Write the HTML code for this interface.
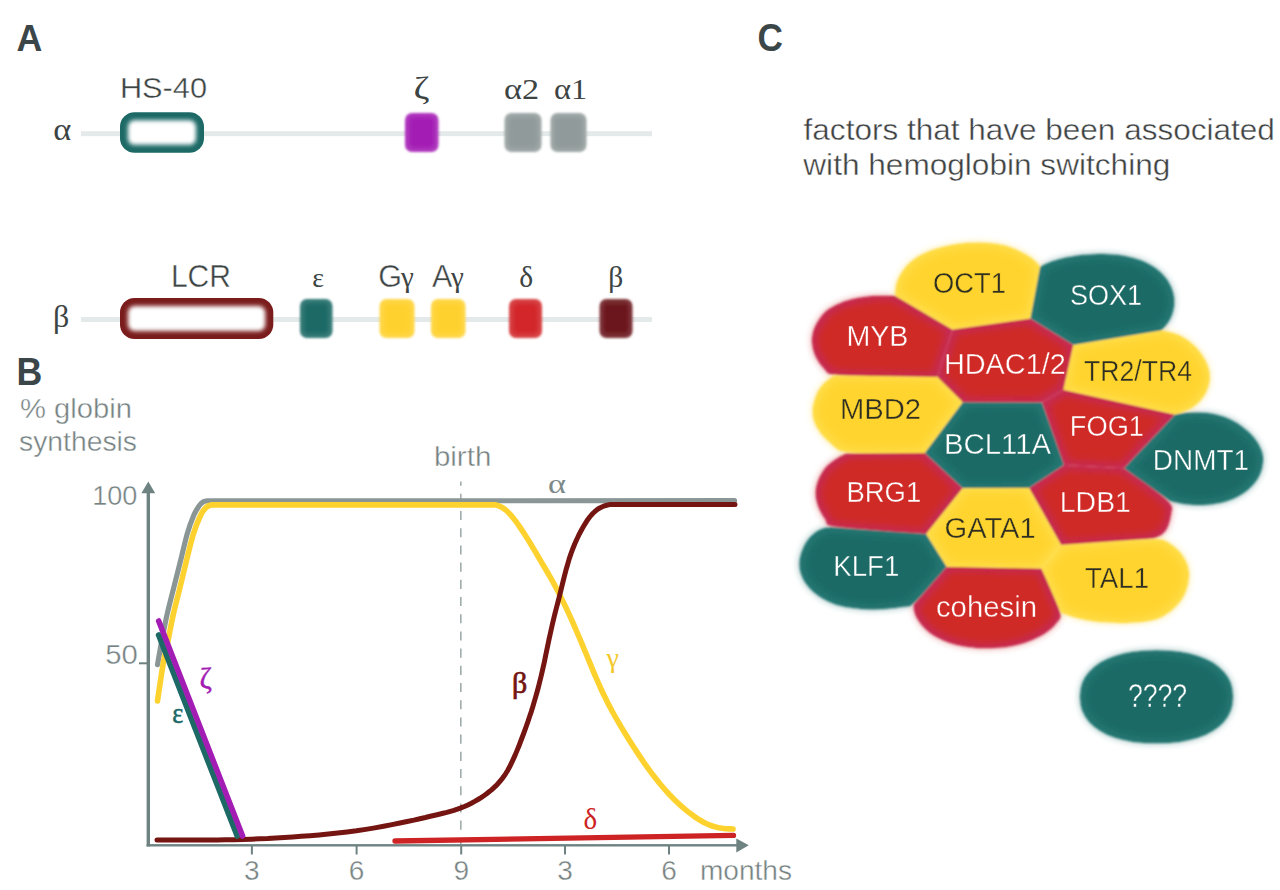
<!DOCTYPE html>
<html><head><meta charset="utf-8"><title>Hemoglobin switching</title>
<style>html,body{margin:0;padding:0;background:#fff;}body{width:1280px;height:890px;overflow:hidden;font-family:"Liberation Sans",sans-serif;}svg{display:block;}</style>
</head><body>
<svg width="1280" height="890" viewBox="0 0 1280 890">
<defs>
<filter id="b1" x="-20%" y="-20%" width="140%" height="140%"><feGaussianBlur stdDeviation="1.1"/></filter>
<filter id="bb" x="-10%" y="-10%" width="120%" height="120%"><feGaussianBlur stdDeviation="1.3"/></filter>
<filter id="b07" x="-20%" y="-20%" width="140%" height="140%"><feGaussianBlur stdDeviation="0.7"/></filter>
<filter id="b2" x="-20%" y="-20%" width="140%" height="140%"><feGaussianBlur stdDeviation="2.2"/></filter>
<filter id="b3" x="-30%" y="-30%" width="160%" height="160%"><feGaussianBlur stdDeviation="3.5"/></filter>
<filter id="b5" x="-30%" y="-30%" width="160%" height="160%"><feGaussianBlur stdDeviation="4.5"/></filter>
<filter id="inner" x="-10%" y="-10%" width="120%" height="120%"><feMorphology operator="erode" radius="3.5"/><feGaussianBlur stdDeviation="4.2"/></filter>
<clipPath id="c_OCT1"><path d="M895.5,296.0 L952.4,329.5 L1030.3,318.5 L1040.0,267.0 L1039.3,266.0 L1038.6,265.0 L1037.8,263.9 L1036.8,262.8 L1035.7,261.6 L1034.4,260.4 L1032.9,259.1 L1031.2,257.8 L1029.3,256.5 L1027.1,255.2 L1024.7,253.8 L1022.1,252.4 L1019.4,251.1 L1016.6,249.8 L1013.8,248.6 L1011.0,247.5 L1008.2,246.5 L1005.2,245.6 L1002.1,244.9 L998.7,244.2 L995.1,243.7 L991.1,243.2 L987.0,242.9 L982.8,242.7 L978.5,242.6 L974.2,242.7 L970.0,242.8 L965.7,243.1 L961.5,243.5 L957.3,244.1 L953.0,244.7 L948.8,245.5 L944.6,246.4 L940.6,247.4 L936.7,248.5 L932.9,249.7 L929.4,251.0 L926.0,252.4 L922.8,253.9 L919.7,255.5 L916.9,257.3 L914.1,259.2 L911.6,261.1 L909.2,263.2 L907.0,265.5 L905.0,267.8 L903.1,270.2 L901.5,272.7 L900.0,275.2 L898.8,277.7 L897.7,280.1 L896.9,282.4 L896.3,284.6 L895.8,286.7 L895.5,288.7 L895.3,290.4 L895.3,292.1 L895.3,293.5 L895.4,294.8 L895.5,296.0 Z"/></clipPath>
<clipPath id="c_MYB"><path d="M937.3,377.0 L952.4,329.5 L895.5,296.0 L892.7,295.9 L889.8,295.8 L886.7,295.7 L883.4,295.7 L879.9,295.7 L876.4,295.8 L872.8,296.0 L869.3,296.3 L865.7,296.7 L862.1,297.2 L858.5,297.8 L855.1,298.5 L851.7,299.3 L848.5,300.2 L845.5,301.1 L842.7,302.1 L840.1,303.2 L837.6,304.2 L835.4,305.3 L833.3,306.4 L831.4,307.4 L829.5,308.5 L827.8,309.7 L826.1,311.1 L824.4,312.7 L822.7,314.6 L821.0,316.7 L819.3,319.0 L817.8,321.5 L816.3,324.0 L815.1,326.5 L814.0,329.1 L813.1,331.8 L812.5,334.5 L812.1,337.3 L812.0,340.2 L812.1,343.2 L812.5,346.3 L813.1,349.3 L813.9,352.2 L815.0,355.0 L816.2,357.7 L817.6,360.1 L819.0,362.4 L820.5,364.5 L822.0,366.3 L823.4,368.0 L824.7,369.4 L825.7,370.6 L826.5,371.7 L827.1,372.7 L828.3,373.5 L831.2,374.2 L837.0,374.8 L846.7,375.4 L860.5,375.8 L877.8,376.2 L897.1,376.5 L917.1,376.8 L937.3,377.0 Z"/></clipPath>
<clipPath id="c_MBD2"><path d="M924.7,453.0 L962.7,402.3 L937.3,377.0 L834.5,375.5 L833.2,376.3 L831.9,377.2 L830.5,378.1 L828.9,379.2 L827.4,380.4 L825.7,381.8 L824.1,383.3 L822.5,384.9 L821.0,386.7 L819.6,388.7 L818.3,390.8 L817.1,393.1 L816.1,395.5 L815.2,398.0 L814.4,400.4 L813.8,402.9 L813.2,405.3 L812.8,407.8 L812.6,410.2 L812.6,412.6 L812.8,415.0 L813.2,417.4 L813.8,419.9 L814.6,422.3 L815.6,424.7 L816.8,427.2 L818.3,429.6 L819.9,432.1 L821.7,434.4 L823.7,436.7 L825.8,438.9 L828.1,441.1 L830.3,443.1 L832.4,445.0 L834.2,446.7 L836.0,448.3 L838.1,449.8 L841.3,451.0 L846.6,452.0 L854.7,452.7 L865.7,453.1 L879.2,453.3 L894.0,453.3 L909.4,453.2 L924.7,453.0 Z"/></clipPath>
<clipPath id="c_BRG1"><path d="M926.2,534.0 L962.7,488.2 L924.7,453.0 L846.0,453.4 L844.1,454.4 L842.1,455.5 L840.0,456.6 L837.8,457.9 L835.6,459.2 L833.5,460.7 L831.4,462.2 L829.3,463.9 L827.4,465.6 L825.6,467.6 L823.9,469.7 L822.4,472.0 L821.0,474.4 L819.7,476.8 L818.6,479.3 L817.7,481.7 L816.9,484.2 L816.3,486.6 L815.9,489.1 L815.6,491.5 L815.6,493.9 L815.8,496.4 L816.1,498.8 L816.6,501.2 L817.3,503.6 L818.0,505.9 L818.9,508.3 L819.9,510.5 L821.0,512.6 L822.1,514.6 L823.3,516.4 L824.4,518.1 L825.3,519.6 L826.0,521.0 L826.3,522.2 L826.4,523.3 L827.0,524.4 L829.2,525.4 L834.0,526.4 L842.6,527.6 L855.2,528.8 L871.0,530.1 L888.9,531.4 L907.5,532.7 L926.2,534.0 Z"/></clipPath>
<clipPath id="c_KLF1"><path d="M946.7,566.7 L926.2,534.0 L831.0,527.2 L829.5,527.4 L828.0,527.6 L826.4,527.8 L824.8,528.1 L823.3,528.5 L821.8,528.9 L820.4,529.5 L819.0,530.2 L817.5,531.0 L816.0,532.0 L814.4,533.3 L812.7,534.7 L811.0,536.3 L809.4,538.1 L807.8,540.0 L806.4,542.1 L805.1,544.3 L803.9,546.6 L802.9,549.0 L801.9,551.3 L801.1,553.7 L800.5,556.0 L799.9,558.4 L799.6,560.7 L799.4,563.0 L799.4,565.3 L799.6,567.7 L800.0,570.0 L800.6,572.4 L801.3,574.7 L802.3,577.1 L803.4,579.4 L804.7,581.7 L806.2,584.0 L808.0,586.3 L809.9,588.5 L812.0,590.6 L814.4,592.7 L816.8,594.6 L819.4,596.4 L822.2,598.2 L825.0,599.8 L827.9,601.2 L830.8,602.5 L833.6,603.7 L836.5,604.7 L839.4,605.5 L842.5,606.3 L845.7,606.9 L849.2,607.6 L853.0,608.1 L857.1,608.6 L861.4,609.0 L865.9,609.3 L870.4,609.4 L874.9,609.4 L879.3,609.3 L883.6,609.1 L887.8,608.7 L891.6,608.3 L895.2,607.9 L898.4,607.5 L901.2,607.1 L903.7,606.8 L905.7,606.7 L907.4,606.6 L909.0,606.4 L910.9,605.5 L913.4,603.6 L917.0,600.2 L921.8,595.1 L927.5,588.8 L933.8,581.6 L940.3,574.2 L946.7,566.7 Z"/></clipPath>
<clipPath id="c_cohesin"><path d="M1041.5,568.4 L946.7,566.7 L913.5,604.8 L913.6,606.2 L913.7,607.6 L913.8,609.2 L914.1,610.8 L914.5,612.5 L915.1,614.3 L915.9,616.2 L916.8,618.1 L918.0,620.0 L919.4,622.1 L921.0,624.2 L922.8,626.3 L924.8,628.4 L927.0,630.5 L929.3,632.5 L931.8,634.3 L934.5,636.0 L937.3,637.6 L940.3,639.1 L943.3,640.4 L946.5,641.7 L949.9,642.9 L953.3,644.0 L956.9,645.0 L960.6,645.8 L964.4,646.5 L968.3,647.1 L972.4,647.6 L976.5,647.9 L980.8,648.2 L985.0,648.3 L989.4,648.2 L993.7,648.1 L998.1,647.8 L1002.3,647.4 L1006.6,646.9 L1010.7,646.2 L1014.8,645.5 L1018.7,644.5 L1022.6,643.5 L1026.3,642.3 L1029.8,641.0 L1033.3,639.6 L1036.5,638.1 L1039.6,636.6 L1042.5,635.0 L1045.2,633.3 L1047.7,631.6 L1050.0,629.8 L1052.0,628.0 L1053.9,626.2 L1055.5,624.3 L1057.0,622.6 L1058.2,621.0 L1059.3,619.7 L1060.1,618.4 L1060.7,617.1 L1060.7,615.2 L1060.0,612.2 L1058.5,607.6 L1056.0,601.4 L1052.8,593.9 L1049.2,585.6 L1045.4,577.0 L1041.5,568.4 Z"/></clipPath>
<clipPath id="c_TAL1"><path d="M1061.0,545.0 L1041.5,568.4 L1061.0,612.5 L1062.7,613.2 L1064.5,614.0 L1066.6,614.8 L1069.0,615.6 L1071.7,616.5 L1074.9,617.4 L1078.3,618.3 L1082.1,619.2 L1086.2,620.0 L1090.5,620.8 L1095.1,621.4 L1099.9,621.9 L1104.9,622.3 L1109.9,622.6 L1115.0,622.8 L1120.1,622.9 L1125.1,622.9 L1130.1,622.8 L1134.9,622.6 L1139.4,622.2 L1143.7,621.8 L1147.7,621.1 L1151.5,620.4 L1155.0,619.5 L1158.2,618.4 L1161.1,617.2 L1163.8,615.8 L1166.3,614.2 L1168.7,612.6 L1170.9,610.9 L1173.1,609.0 L1175.1,607.1 L1177.1,605.1 L1179.0,603.0 L1180.7,600.7 L1182.3,598.2 L1183.8,595.7 L1185.1,593.0 L1186.2,590.2 L1187.1,587.3 L1187.9,584.4 L1188.5,581.4 L1188.8,578.5 L1189.0,575.6 L1189.0,572.9 L1188.7,570.3 L1188.2,567.9 L1187.6,565.5 L1186.7,563.2 L1185.6,560.8 L1184.3,558.4 L1182.8,556.0 L1181.1,553.6 L1179.2,551.3 L1177.1,549.2 L1174.9,547.2 L1172.6,545.5 L1170.3,543.9 L1168.2,542.5 L1166.3,541.4 L1164.4,540.4 L1162.1,539.7 L1158.4,539.3 L1152.2,539.2 L1142.8,539.5 L1129.9,540.2 L1114.2,541.2 L1096.9,542.4 L1078.9,543.7 L1061.0,545.0 Z"/></clipPath>
<clipPath id="c_LDB1"><path d="M1124.0,468.2 L1064.0,465.0 L1029.0,488.0 L1061.0,545.0 L1153.0,538.5 L1154.7,537.9 L1156.4,537.3 L1158.2,536.6 L1159.9,535.7 L1161.5,534.7 L1163.0,533.6 L1164.3,532.3 L1165.4,530.9 L1166.4,529.4 L1167.3,527.7 L1168.1,525.9 L1168.8,524.0 L1169.4,522.1 L1169.9,520.1 L1170.4,518.3 L1170.7,516.5 L1171.0,514.8 L1171.3,513.2 L1171.6,511.7 L1171.9,510.2 L1172.1,508.6 L1171.9,506.9 L1170.9,504.7 L1168.5,501.7 L1164.3,497.8 L1158.2,492.8 L1150.6,487.0 L1142.0,480.8 L1133.0,474.5 L1124.0,468.2 Z"/></clipPath>
<clipPath id="c_DNMT1"><path d="M1175.0,414.5 L1124.0,468.2 L1169.8,500.8 L1172.3,501.5 L1175.0,502.2 L1177.9,502.8 L1181.0,503.5 L1184.4,504.0 L1188.0,504.5 L1191.6,504.8 L1195.4,505.0 L1199.3,505.0 L1203.2,504.9 L1207.0,504.7 L1210.9,504.4 L1214.7,503.8 L1218.4,503.2 L1222.1,502.4 L1225.8,501.4 L1229.3,500.2 L1232.7,498.9 L1236.0,497.4 L1239.2,495.7 L1242.2,493.9 L1245.1,491.9 L1247.7,489.9 L1250.2,487.7 L1252.4,485.5 L1254.4,483.3 L1256.1,481.0 L1257.7,478.7 L1259.0,476.3 L1260.1,473.9 L1261.1,471.3 L1261.9,468.7 L1262.4,466.1 L1262.8,463.5 L1263.0,461.0 L1263.1,458.5 L1262.9,456.1 L1262.5,453.8 L1261.8,451.4 L1260.9,448.9 L1259.7,446.4 L1258.3,443.8 L1256.6,441.2 L1254.7,438.6 L1252.5,436.1 L1250.2,433.6 L1247.7,431.2 L1245.0,428.9 L1242.2,426.7 L1239.2,424.6 L1236.0,422.6 L1232.7,420.8 L1229.3,419.1 L1225.8,417.6 L1222.1,416.3 L1218.4,415.2 L1214.6,414.3 L1210.9,413.6 L1207.1,413.1 L1203.3,412.8 L1199.7,412.6 L1196.1,412.6 L1192.7,412.6 L1189.5,412.8 L1186.5,413.0 L1183.7,413.3 L1181.2,413.6 L1178.9,413.9 L1176.9,414.2 L1175.0,414.5 Z"/></clipPath>
<clipPath id="c_FOG1"><path d="M1175.0,414.5 L1063.5,389.7 L1042.0,402.5 L1064.0,465.0 L1124.0,468.2 Z"/></clipPath>
<clipPath id="c_TR2TR4"><path d="M1175.0,414.5 L1063.5,389.7 L1073.4,345.0 L1161.0,330.5 L1163.3,330.8 L1165.7,331.2 L1168.2,331.7 L1170.9,332.4 L1173.8,333.3 L1176.7,334.3 L1179.7,335.6 L1182.6,337.1 L1185.5,338.8 L1188.4,340.8 L1191.2,342.9 L1193.9,345.3 L1196.4,347.8 L1198.8,350.5 L1200.9,353.3 L1202.9,356.2 L1204.6,359.1 L1206.1,362.1 L1207.4,365.0 L1208.4,367.8 L1209.1,370.6 L1209.6,373.2 L1209.8,375.8 L1209.8,378.4 L1209.6,381.0 L1209.1,383.5 L1208.5,386.1 L1207.6,388.6 L1206.6,391.1 L1205.4,393.5 L1204.0,395.9 L1202.4,398.1 L1200.7,400.2 L1198.9,402.2 L1197.0,404.0 L1195.0,405.6 L1193.0,407.1 L1190.8,408.4 L1188.6,409.6 L1186.3,410.6 L1183.9,411.6 L1181.6,412.4 L1179.3,413.2 L1177.1,413.9 L1175.0,414.5 Z"/></clipPath>
<clipPath id="c_SOX1"><path d="M1161.0,330.5 L1073.4,345.0 L1030.3,318.5 L1040.0,267.0 L1040.9,266.5 L1041.9,265.9 L1043.1,265.2 L1044.5,264.5 L1046.2,263.8 L1048.2,262.9 L1050.5,262.0 L1053.0,261.1 L1055.9,260.2 L1059.0,259.3 L1062.3,258.4 L1065.9,257.6 L1069.7,256.9 L1073.7,256.2 L1077.7,255.6 L1081.9,255.1 L1086.1,254.7 L1090.4,254.4 L1094.7,254.2 L1099.0,254.1 L1103.2,254.1 L1107.5,254.2 L1111.8,254.4 L1116.1,254.7 L1120.4,255.3 L1124.7,256.0 L1129.0,256.9 L1133.2,258.0 L1137.3,259.2 L1141.3,260.6 L1145.1,262.2 L1148.7,264.0 L1152.1,265.9 L1155.3,268.0 L1158.2,270.2 L1160.8,272.5 L1163.2,275.0 L1165.4,277.5 L1167.3,280.1 L1168.9,282.7 L1170.3,285.2 L1171.5,287.8 L1172.4,290.4 L1173.2,292.9 L1173.7,295.5 L1174.1,298.1 L1174.3,300.6 L1174.3,303.2 L1174.1,305.8 L1173.7,308.4 L1173.1,311.0 L1172.4,313.7 L1171.4,316.3 L1170.3,318.8 L1168.9,321.2 L1167.4,323.4 L1165.8,325.4 L1164.2,327.3 L1162.6,328.9 L1161.0,330.5 Z"/></clipPath>
<clipPath id="c_HDAC"><path d="M952.4,329.5 L1030.3,318.5 L1073.4,345.0 L1063.5,389.7 L1042.0,402.5 L962.7,402.3 L937.3,377.0 Z"/></clipPath>
<clipPath id="c_BCL11A"><path d="M962.7,402.3 L1042.0,402.5 L1064.0,465.0 L1029.0,488.0 L962.7,488.2 L924.7,453.0 Z"/></clipPath>
<clipPath id="c_GATA1"><path d="M962.7,488.2 L1029.0,488.0 L1061.0,545.0 L1041.5,568.4 L946.7,566.7 L926.2,534.0 Z"/></clipPath>
<clipPath id="c_Q"><path d="M1233.0,696.8 L1232.4,704.4 L1230.7,710.8 L1227.8,716.6 L1223.8,721.9 L1218.8,726.7 L1212.7,731.0 L1205.7,734.7 L1197.8,737.7 L1189.1,740.1 L1179.5,741.9 L1169.0,742.9 L1156.5,743.3 L1144.0,742.9 L1133.5,741.9 L1123.9,740.1 L1115.2,737.7 L1107.3,734.7 L1100.3,731.0 L1094.2,726.7 L1089.2,721.9 L1085.2,716.6 L1082.3,710.8 L1080.6,704.4 L1080.0,696.8 L1080.6,689.2 L1082.3,682.8 L1085.2,677.0 L1089.2,671.7 L1094.2,666.9 L1100.3,662.6 L1107.3,658.9 L1115.2,655.9 L1123.9,653.5 L1133.5,651.7 L1144.0,650.7 L1156.5,650.3 L1169.0,650.7 L1179.5,651.7 L1189.1,653.5 L1197.8,655.9 L1205.7,658.9 L1212.7,662.6 L1218.8,666.9 L1223.8,671.7 L1227.8,677.0 L1230.7,682.8 L1232.4,689.2 Z"/></clipPath>
</defs>
<rect width="1280" height="890" fill="#ffffff"/>
<text x="16.6" y="50.6" font-family='"Liberation Sans", sans-serif' font-size="37.5" font-weight="bold" fill="#3b4648" text-anchor="start" textLength="25.8" lengthAdjust="spacingAndGlyphs" >A</text>
<text x="757.4" y="51.2" font-family='"Liberation Sans", sans-serif' font-size="38.0" font-weight="bold" fill="#3b4648" text-anchor="start" textLength="25.4" lengthAdjust="spacingAndGlyphs" >C</text>
<text x="16.4" y="385.4" font-family='"Liberation Sans", sans-serif' font-size="38.0" font-weight="bold" fill="#3b4648" text-anchor="start" textLength="25.8" lengthAdjust="spacingAndGlyphs" >B</text>
<g filter="url(#b07)">
<rect x="81" y="131.2" width="571" height="5" fill="#e4e9e9"/>
<rect x="81" y="317" width="571" height="5" fill="#e4e9e9"/>
</g>
<g><rect x="120.0" y="112.3" width="84.0" height="40.5" rx="14.5" fill="#1c6966" filter="url(#b07)"/><rect x="128.0" y="120.3" width="68.0" height="24.5" rx="6.5" fill="#ffffff" filter="url(#b2)"/></g>
<g filter="url(#b1)"><rect x="405.0" y="113.0" width="33.5" height="39.0" rx="7.0" fill="#b241c0"/><rect x="408.5" y="116.5" width="26.5" height="32.0" rx="4.0" fill="#a31db4" filter="url(#b2)"/></g>
<g filter="url(#b1)"><rect x="504.5" y="113.0" width="37.0" height="39.0" rx="7.0" fill="#a2aaaa"/><rect x="508.0" y="116.5" width="30.0" height="32.0" rx="4.0" fill="#909a9a" filter="url(#b2)"/></g>
<g filter="url(#b1)"><rect x="550.5" y="113.0" width="36.0" height="39.0" rx="7.0" fill="#a2aaaa"/><rect x="554.0" y="116.5" width="29.0" height="32.0" rx="4.0" fill="#909a9a" filter="url(#b2)"/></g>
<g><rect x="120.0" y="298.0" width="153.3" height="41.0" rx="14.5" fill="#7a1a1c" filter="url(#b07)"/><rect x="128.0" y="306.0" width="137.3" height="25.0" rx="6.5" fill="#ffffff" filter="url(#b2)"/></g>
<g filter="url(#b1)"><rect x="300.0" y="299.0" width="32.5" height="39.0" rx="7.0" fill="#40817e"/><rect x="303.5" y="302.5" width="25.5" height="32.0" rx="4.0" fill="#1c6966" filter="url(#b2)"/></g>
<g filter="url(#b1)"><rect x="379.5" y="299.0" width="35.0" height="39.0" rx="7.0" fill="#ffd84f"/><rect x="383.0" y="302.5" width="28.0" height="32.0" rx="4.0" fill="#ffd12e" filter="url(#b2)"/></g>
<g filter="url(#b1)"><rect x="431.0" y="299.0" width="34.5" height="39.0" rx="7.0" fill="#ffd84f"/><rect x="434.5" y="302.5" width="27.5" height="32.0" rx="4.0" fill="#ffd12e" filter="url(#b2)"/></g>
<g filter="url(#b1)"><rect x="509.0" y="299.0" width="33.0" height="39.0" rx="7.0" fill="#d94a4c"/><rect x="512.5" y="302.5" width="26.0" height="32.0" rx="4.0" fill="#d2272a" filter="url(#b2)"/></g>
<g filter="url(#b1)"><rect x="599.5" y="299.0" width="33.0" height="39.0" rx="7.0" fill="#823d40"/><rect x="603.0" y="302.5" width="26.0" height="32.0" rx="4.0" fill="#6a181c" filter="url(#b2)"/></g>
<text x="119.9" y="98.3" font-family='"Liberation Sans", sans-serif' font-size="30.0" font-weight="normal" fill="#3d4444" text-anchor="start" textLength="87.1" lengthAdjust="spacingAndGlyphs"  stroke="#fff" stroke-width="0.40">HS-40</text>
<text x="53.2" y="139.6" font-family='"Liberation Serif", serif' font-size="32.0" font-weight="normal" fill="#3d4444" text-anchor="start" textLength="18.0" lengthAdjust="spacingAndGlyphs" >&#945;</text>
<text x="413.4" y="98.7" font-family='"Liberation Serif", serif' font-size="32.0" font-weight="normal" fill="#3d4444" text-anchor="start" textLength="16.0" lengthAdjust="spacingAndGlyphs" >&#950;</text>
<text x="504.0" y="98.5" font-family='"Liberation Serif", serif' font-size="29.5" font-weight="normal" fill="#3d4444" text-anchor="start" textLength="35.0" lengthAdjust="spacingAndGlyphs" >&#945;2</text>
<text x="554.0" y="98.5" font-family='"Liberation Serif", serif' font-size="29.5" font-weight="normal" fill="#3d4444" text-anchor="start" textLength="33.2" lengthAdjust="spacingAndGlyphs" >&#945;1</text>
<text x="53.0" y="327.0" font-family='"Liberation Serif", serif' font-size="32.0" font-weight="normal" fill="#3d4444" text-anchor="start" >&#946;</text>
<text x="170.9" y="287.3" font-family='"Liberation Sans", sans-serif' font-size="30.5" font-weight="normal" fill="#3d4444" text-anchor="start" textLength="60.1" lengthAdjust="spacingAndGlyphs"  stroke="#fff" stroke-width="0.40">LCR</text>
<text x="312.2" y="287.3" font-family='"Liberation Serif", serif' font-size="28.0" font-weight="normal" fill="#3d4444" text-anchor="start" >&#949;</text>
<text x="378.2" y="287.0" font-family='"Liberation Sans", sans-serif' font-size="30.5" font-weight="normal" fill="#3d4444" text-anchor="start"  stroke="#fff" stroke-width="0.40">G</text>
<text x="401.0" y="287.0" font-family='"Liberation Serif", serif' font-size="29.0" font-weight="normal" fill="#3d4444" text-anchor="start" >&#947;</text>
<text x="432.0" y="287.0" font-family='"Liberation Sans", sans-serif' font-size="30.5" font-weight="normal" fill="#3d4444" text-anchor="start"  stroke="#fff" stroke-width="0.40">A</text>
<text x="451.0" y="287.0" font-family='"Liberation Serif", serif' font-size="29.0" font-weight="normal" fill="#3d4444" text-anchor="start" >&#947;</text>
<text x="519.2" y="287.3" font-family='"Liberation Serif", serif' font-size="29.5" font-weight="normal" fill="#3d4444" text-anchor="start" >&#948;</text>
<text x="608.2" y="287.3" font-family='"Liberation Serif", serif' font-size="29.5" font-weight="normal" fill="#3d4444" text-anchor="start" >&#946;</text>
<text x="20.0" y="418.0" font-family='"Liberation Sans", sans-serif' font-size="27.5" font-weight="normal" fill="#768282" text-anchor="start" textLength="112.0" lengthAdjust="spacingAndGlyphs"  stroke="#fff" stroke-width="0.40">% globin</text>
<text x="19.0" y="451.0" font-family='"Liberation Sans", sans-serif' font-size="27.5" font-weight="normal" fill="#768282" text-anchor="start" textLength="118.0" lengthAdjust="spacingAndGlyphs"  stroke="#fff" stroke-width="0.40">synthesis</text>
<text x="92.2" y="504.7" font-family='"Liberation Sans", sans-serif' font-size="28.5" font-weight="normal" fill="#768282" text-anchor="start" textLength="45.2" lengthAdjust="spacingAndGlyphs"  stroke="#fff" stroke-width="0.40">100</text>
<text x="105.3" y="663.8" font-family='"Liberation Sans", sans-serif' font-size="28.5" font-weight="normal" fill="#768282" text-anchor="start" textLength="32.6" lengthAdjust="spacingAndGlyphs"  stroke="#fff" stroke-width="0.40">50</text>
<text x="433.9" y="466.0" font-family='"Liberation Sans", sans-serif' font-size="27.5" font-weight="normal" fill="#768282" text-anchor="start" textLength="57.4" lengthAdjust="spacingAndGlyphs"  stroke="#fff" stroke-width="0.40">birth</text>
<text x="699.9" y="879.6" font-family='"Liberation Sans", sans-serif' font-size="27.5" font-weight="normal" fill="#768282" text-anchor="start" textLength="92.1" lengthAdjust="spacingAndGlyphs"  stroke="#fff" stroke-width="0.40">months</text>
<text x="251.9" y="880.3" font-family='"Liberation Sans", sans-serif' font-size="28.5" font-weight="normal" fill="#768282" text-anchor="middle" textLength="15.6" lengthAdjust="spacingAndGlyphs"  stroke="#fff" stroke-width="0.40">3</text>
<rect x="250.9" y="845" width="2" height="9.5" fill="#6f8282"/>
<text x="356.6" y="880.3" font-family='"Liberation Sans", sans-serif' font-size="28.5" font-weight="normal" fill="#768282" text-anchor="middle" textLength="15.6" lengthAdjust="spacingAndGlyphs"  stroke="#fff" stroke-width="0.40">6</text>
<rect x="355.6" y="845" width="2" height="9.5" fill="#6f8282"/>
<text x="461.2" y="880.3" font-family='"Liberation Sans", sans-serif' font-size="28.5" font-weight="normal" fill="#768282" text-anchor="middle" textLength="15.6" lengthAdjust="spacingAndGlyphs"  stroke="#fff" stroke-width="0.40">9</text>
<rect x="460.2" y="845" width="2" height="9.5" fill="#6f8282"/>
<text x="565.0" y="880.3" font-family='"Liberation Sans", sans-serif' font-size="28.5" font-weight="normal" fill="#768282" text-anchor="middle" textLength="15.6" lengthAdjust="spacingAndGlyphs"  stroke="#fff" stroke-width="0.40">3</text>
<rect x="564.0" y="845" width="2" height="9.5" fill="#6f8282"/>
<text x="669.0" y="880.3" font-family='"Liberation Sans", sans-serif' font-size="28.5" font-weight="normal" fill="#768282" text-anchor="middle" textLength="15.6" lengthAdjust="spacingAndGlyphs"  stroke="#fff" stroke-width="0.40">6</text>
<rect x="668.0" y="845" width="2" height="9.5" fill="#6f8282"/>
<rect x="146.6" y="490" width="3.4" height="356.5" fill="#6f8282"/>
<rect x="146.6" y="844.1" width="591" height="2.4" fill="#6f8282"/>
<path d="M148.3,481.5 L155.2,493.3 L141.4,493.3 Z" fill="#6f8282"/>
<path d="M748.8,845.3 L736.3,838.4 L736.3,852.4 Z" fill="#6f8282"/>
<rect x="139" y="662.3" width="8" height="2" fill="#6f8282"/>
<line x1="460.85" y1="481.6" x2="460.85" y2="844" stroke="#8b9999" stroke-width="1.3" stroke-dasharray="9.1 8.1" stroke-dashoffset="5"/>
<path d="M157.5,664.7 C158.2,660.9 160.0,650.1 161.6,641.8 C163.2,633.5 165.0,623.8 167.0,614.8 C169.0,605.8 171.4,596.9 173.7,587.9 C175.9,578.9 178.2,569.9 180.5,560.9 C182.8,551.9 185.0,541.5 187.2,533.9 C189.4,526.2 191.9,519.7 193.9,515.0 C195.9,510.3 197.8,507.8 199.3,505.6 C200.8,503.4 201.7,502.8 203.0,502.0 C204.3,501.2 206.3,501.0 207.0,500.8 L734.5,500.7" fill="none" stroke="#8a9696" stroke-width="5.2" stroke-linecap="round" stroke-linejoin="round"/>
<path d="M157.5,701.0 C158.4,695.0 161.3,674.6 163.0,664.7 C164.7,654.8 166.1,650.1 167.8,641.8 C169.5,633.5 171.2,623.8 173.2,614.8 C175.2,605.8 177.7,596.9 179.9,587.9 C182.1,578.9 184.2,569.9 186.4,560.9 C188.7,551.9 191.0,541.5 193.4,533.9 C195.8,526.2 198.6,519.4 200.7,515.0 C202.8,510.6 204.3,509.2 206.0,507.5 C207.7,505.8 210.2,505.3 211.0,504.9 L495.7,504.9 L497.5,505.4 L499.3,506.1 L501.3,507.0 L503.4,508.2 L505.7,510.0 L508.2,512.3 L510.9,515.2 L513.7,518.6 L516.7,522.5 L519.7,526.9 L522.9,531.6 L526.0,536.5 L529.2,541.5 L532.3,546.7 L535.4,551.9 L538.4,557.0 L541.4,562.1 L544.3,567.0 L547.1,571.7 L549.8,576.4 L552.5,581.2 L555.2,586.1 L558.0,591.4 L560.9,597.2 L564.0,603.4 L567.2,610.1 L570.4,617.2 L573.7,624.5 L576.9,632.0 L580.1,639.4 L583.2,646.8 L586.2,654.0 L589.1,661.1 L591.9,667.9 L594.7,674.6 L597.5,681.0 L600.2,687.2 L603.0,693.2 L605.9,699.1 L608.8,704.9 L611.9,710.7 L615.1,716.5 L618.5,722.4 L622.0,728.4 L625.6,734.3 L629.3,740.3 L633.0,746.1 L636.8,751.9 L640.5,757.4 L644.2,762.9 L647.9,768.1 L651.6,773.2 L655.4,778.0 L659.1,782.7 L662.9,787.2 L666.6,791.5 L670.4,795.6 L674.2,799.4 L678.0,803.1 L681.9,806.6 L685.7,809.8 L689.4,812.8 L693.1,815.6 L696.7,818.1 L700.2,820.3 L703.5,822.2 L706.6,823.7 L709.5,825.0 L712.3,826.0 L714.9,826.8 L717.5,827.5 L720.0,827.9 L722.4,828.3 L724.7,828.6 L726.9,828.7 L729.0,828.9 L731.0,828.9 L733.0,829.0" fill="none" stroke="#fdd22f" stroke-width="5.6" stroke-linecap="round" stroke-linejoin="round"/>
<path d="M395,841 L733.5,835.4" fill="none" stroke="#cd2324" stroke-width="5.3" stroke-linecap="round"/>
<path d="M157.0,840.0 L163.5,840.0 L170.2,840.1 L177.3,840.1 L184.7,840.1 L192.5,840.1 L200.5,840.1 L208.8,840.0 L217.2,840.0 L225.8,839.8 L234.3,839.7 L242.8,839.5 L251.2,839.2 L259.4,838.8 L267.7,838.5 L275.9,838.0 L284.2,837.5 L292.6,837.0 L301.2,836.3 L310.0,835.7 L319.1,834.9 L328.3,834.1 L337.7,833.1 L347.0,832.0 L356.4,830.8 L365.7,829.4 L374.8,827.9 L383.6,826.3 L392.0,824.6 L399.9,823.0 L407.2,821.5 L413.9,820.1 L419.9,818.7 L425.4,817.5 L430.3,816.3 L434.9,815.3 L439.1,814.3 L443.1,813.3 L446.8,812.4 L450.4,811.4 L453.9,810.4 L457.4,809.2 L460.9,807.9 L464.4,806.5 L467.9,804.9 L471.4,803.2 L474.7,801.4 L478.0,799.5 L481.1,797.6 L483.9,795.7 L486.6,793.8 L489.1,791.8 L491.5,789.9 L493.7,787.9 L495.8,785.9 L497.9,783.7 L499.8,781.5 L501.8,779.2 L503.7,776.6 L505.6,773.8 L507.5,770.7 L509.4,767.3 L511.2,763.6 L513.1,759.6 L515.0,755.4 L516.9,750.9 L518.8,746.3 L520.6,741.5 L522.5,736.5 L524.4,731.5 L526.2,726.5 L528.0,721.4 L529.6,716.5 L531.3,711.6 L532.8,706.7 L534.2,701.9 L535.6,697.1 L537.0,692.3 L538.3,687.5 L539.5,682.6 L540.8,677.5 L542.0,672.4 L543.2,667.1 L544.4,661.7 L545.5,656.2 L546.7,650.5 L547.9,644.7 L549.1,638.9 L550.4,633.3 L551.6,627.8 L552.8,622.5 L554.0,617.5 L555.2,612.7 L556.4,608.0 L557.6,603.3 L558.9,598.4 L560.2,593.2 L561.5,587.8 L562.9,582.1 L564.4,576.2 L565.9,570.3 L567.6,564.5 L569.2,558.9 L571.0,553.6 L572.8,548.7 L574.7,544.0 L576.6,539.7 L578.5,535.7 L580.4,532.0 L582.3,528.5 L584.2,525.3 L586.0,522.4 L587.7,519.7 L589.5,517.3 L591.2,515.2 L593.0,513.3 L594.7,511.7 L596.3,510.3 L598.0,509.0 L599.7,508.0 L601.3,507.2 L602.9,506.5 L604.4,505.9 L605.9,505.5 L607.3,505.1 L608.7,504.8 L610.0,504.6 L735,504.6" fill="none" stroke="#741512" stroke-width="5" stroke-linecap="round" stroke-linejoin="round"/>
<path d="M158.6,635 L237.2,836" fill="none" stroke="#1c6966" stroke-width="5.6" stroke-linecap="round"/>
<path d="M158.7,621 L242.6,836" fill="none" stroke="#a31db4" stroke-width="5.6" stroke-linecap="round"/>
<text x="548.0" y="493.0" font-family='"Liberation Serif", serif' font-size="28.0" font-weight="normal" fill="#7d8989" text-anchor="start" textLength="18.0" lengthAdjust="spacingAndGlyphs" >&#945;</text>
<text x="199.5" y="688.0" font-family='"Liberation Serif", serif' font-size="30.0" font-weight="normal" fill="#a31db4" text-anchor="start" stroke="#a31db4" stroke-width="0.4">&#950;</text>
<text x="172.2" y="723.0" font-family='"Liberation Serif", serif' font-size="28.5" font-weight="normal" fill="#1c6966" text-anchor="start" textLength="11.0" lengthAdjust="spacingAndGlyphs" stroke="#1c6966" stroke-width="0.5">&#949;</text>
<text x="512.0" y="693.0" font-family='"Liberation Serif", serif' font-size="30.0" font-weight="normal" fill="#741512" text-anchor="start" stroke="#741512" stroke-width="0.7">&#946;</text>
<text x="606.5" y="667.0" font-family='"Liberation Serif", serif' font-size="28.0" font-weight="normal" fill="#f4c82a" text-anchor="start" >&#947;</text>
<text x="583.5" y="829.0" font-family='"Liberation Serif", serif' font-size="29.0" font-weight="normal" fill="#cd2324" text-anchor="start" >&#948;</text>
<text x="803.6" y="140.0" font-family='"Liberation Sans", sans-serif' font-size="30.0" font-weight="normal" fill="#3e4242" text-anchor="start" textLength="471.2" lengthAdjust="spacingAndGlyphs"  stroke="#fff" stroke-width="0.40">factors that have been associated</text>
<text x="803.3" y="175.0" font-family='"Liberation Sans", sans-serif' font-size="30.0" font-weight="normal" fill="#3e4242" text-anchor="start" textLength="367.0" lengthAdjust="spacingAndGlyphs"  stroke="#fff" stroke-width="0.40">with hemoglobin switching</text>
<g filter="url(#b3)" opacity="0.5">
<path d="M895.5,296.0 L952.4,329.5 L1030.3,318.5 L1040.0,267.0 L1039.3,266.0 L1038.6,265.0 L1037.8,263.9 L1036.8,262.8 L1035.7,261.6 L1034.4,260.4 L1032.9,259.1 L1031.2,257.8 L1029.3,256.5 L1027.1,255.2 L1024.7,253.8 L1022.1,252.4 L1019.4,251.1 L1016.6,249.8 L1013.8,248.6 L1011.0,247.5 L1008.2,246.5 L1005.2,245.6 L1002.1,244.9 L998.7,244.2 L995.1,243.7 L991.1,243.2 L987.0,242.9 L982.8,242.7 L978.5,242.6 L974.2,242.7 L970.0,242.8 L965.7,243.1 L961.5,243.5 L957.3,244.1 L953.0,244.7 L948.8,245.5 L944.6,246.4 L940.6,247.4 L936.7,248.5 L932.9,249.7 L929.4,251.0 L926.0,252.4 L922.8,253.9 L919.7,255.5 L916.9,257.3 L914.1,259.2 L911.6,261.1 L909.2,263.2 L907.0,265.5 L905.0,267.8 L903.1,270.2 L901.5,272.7 L900.0,275.2 L898.8,277.7 L897.7,280.1 L896.9,282.4 L896.3,284.6 L895.8,286.7 L895.5,288.7 L895.3,290.4 L895.3,292.1 L895.3,293.5 L895.4,294.8 L895.5,296.0 Z" fill="#ffd42e"/>
<path d="M937.3,377.0 L952.4,329.5 L895.5,296.0 L892.7,295.9 L889.8,295.8 L886.7,295.7 L883.4,295.7 L879.9,295.7 L876.4,295.8 L872.8,296.0 L869.3,296.3 L865.7,296.7 L862.1,297.2 L858.5,297.8 L855.1,298.5 L851.7,299.3 L848.5,300.2 L845.5,301.1 L842.7,302.1 L840.1,303.2 L837.6,304.2 L835.4,305.3 L833.3,306.4 L831.4,307.4 L829.5,308.5 L827.8,309.7 L826.1,311.1 L824.4,312.7 L822.7,314.6 L821.0,316.7 L819.3,319.0 L817.8,321.5 L816.3,324.0 L815.1,326.5 L814.0,329.1 L813.1,331.8 L812.5,334.5 L812.1,337.3 L812.0,340.2 L812.1,343.2 L812.5,346.3 L813.1,349.3 L813.9,352.2 L815.0,355.0 L816.2,357.7 L817.6,360.1 L819.0,362.4 L820.5,364.5 L822.0,366.3 L823.4,368.0 L824.7,369.4 L825.7,370.6 L826.5,371.7 L827.1,372.7 L828.3,373.5 L831.2,374.2 L837.0,374.8 L846.7,375.4 L860.5,375.8 L877.8,376.2 L897.1,376.5 L917.1,376.8 L937.3,377.0 Z" fill="#cf2925"/>
<path d="M924.7,453.0 L962.7,402.3 L937.3,377.0 L834.5,375.5 L833.2,376.3 L831.9,377.2 L830.5,378.1 L828.9,379.2 L827.4,380.4 L825.7,381.8 L824.1,383.3 L822.5,384.9 L821.0,386.7 L819.6,388.7 L818.3,390.8 L817.1,393.1 L816.1,395.5 L815.2,398.0 L814.4,400.4 L813.8,402.9 L813.2,405.3 L812.8,407.8 L812.6,410.2 L812.6,412.6 L812.8,415.0 L813.2,417.4 L813.8,419.9 L814.6,422.3 L815.6,424.7 L816.8,427.2 L818.3,429.6 L819.9,432.1 L821.7,434.4 L823.7,436.7 L825.8,438.9 L828.1,441.1 L830.3,443.1 L832.4,445.0 L834.2,446.7 L836.0,448.3 L838.1,449.8 L841.3,451.0 L846.6,452.0 L854.7,452.7 L865.7,453.1 L879.2,453.3 L894.0,453.3 L909.4,453.2 L924.7,453.0 Z" fill="#ffd42e"/>
<path d="M926.2,534.0 L962.7,488.2 L924.7,453.0 L846.0,453.4 L844.1,454.4 L842.1,455.5 L840.0,456.6 L837.8,457.9 L835.6,459.2 L833.5,460.7 L831.4,462.2 L829.3,463.9 L827.4,465.6 L825.6,467.6 L823.9,469.7 L822.4,472.0 L821.0,474.4 L819.7,476.8 L818.6,479.3 L817.7,481.7 L816.9,484.2 L816.3,486.6 L815.9,489.1 L815.6,491.5 L815.6,493.9 L815.8,496.4 L816.1,498.8 L816.6,501.2 L817.3,503.6 L818.0,505.9 L818.9,508.3 L819.9,510.5 L821.0,512.6 L822.1,514.6 L823.3,516.4 L824.4,518.1 L825.3,519.6 L826.0,521.0 L826.3,522.2 L826.4,523.3 L827.0,524.4 L829.2,525.4 L834.0,526.4 L842.6,527.6 L855.2,528.8 L871.0,530.1 L888.9,531.4 L907.5,532.7 L926.2,534.0 Z" fill="#cf2925"/>
<path d="M946.7,566.7 L926.2,534.0 L831.0,527.2 L829.5,527.4 L828.0,527.6 L826.4,527.8 L824.8,528.1 L823.3,528.5 L821.8,528.9 L820.4,529.5 L819.0,530.2 L817.5,531.0 L816.0,532.0 L814.4,533.3 L812.7,534.7 L811.0,536.3 L809.4,538.1 L807.8,540.0 L806.4,542.1 L805.1,544.3 L803.9,546.6 L802.9,549.0 L801.9,551.3 L801.1,553.7 L800.5,556.0 L799.9,558.4 L799.6,560.7 L799.4,563.0 L799.4,565.3 L799.6,567.7 L800.0,570.0 L800.6,572.4 L801.3,574.7 L802.3,577.1 L803.4,579.4 L804.7,581.7 L806.2,584.0 L808.0,586.3 L809.9,588.5 L812.0,590.6 L814.4,592.7 L816.8,594.6 L819.4,596.4 L822.2,598.2 L825.0,599.8 L827.9,601.2 L830.8,602.5 L833.6,603.7 L836.5,604.7 L839.4,605.5 L842.5,606.3 L845.7,606.9 L849.2,607.6 L853.0,608.1 L857.1,608.6 L861.4,609.0 L865.9,609.3 L870.4,609.4 L874.9,609.4 L879.3,609.3 L883.6,609.1 L887.8,608.7 L891.6,608.3 L895.2,607.9 L898.4,607.5 L901.2,607.1 L903.7,606.8 L905.7,606.7 L907.4,606.6 L909.0,606.4 L910.9,605.5 L913.4,603.6 L917.0,600.2 L921.8,595.1 L927.5,588.8 L933.8,581.6 L940.3,574.2 L946.7,566.7 Z" fill="#1e6a66"/>
<path d="M1041.5,568.4 L946.7,566.7 L913.5,604.8 L913.6,606.2 L913.7,607.6 L913.8,609.2 L914.1,610.8 L914.5,612.5 L915.1,614.3 L915.9,616.2 L916.8,618.1 L918.0,620.0 L919.4,622.1 L921.0,624.2 L922.8,626.3 L924.8,628.4 L927.0,630.5 L929.3,632.5 L931.8,634.3 L934.5,636.0 L937.3,637.6 L940.3,639.1 L943.3,640.4 L946.5,641.7 L949.9,642.9 L953.3,644.0 L956.9,645.0 L960.6,645.8 L964.4,646.5 L968.3,647.1 L972.4,647.6 L976.5,647.9 L980.8,648.2 L985.0,648.3 L989.4,648.2 L993.7,648.1 L998.1,647.8 L1002.3,647.4 L1006.6,646.9 L1010.7,646.2 L1014.8,645.5 L1018.7,644.5 L1022.6,643.5 L1026.3,642.3 L1029.8,641.0 L1033.3,639.6 L1036.5,638.1 L1039.6,636.6 L1042.5,635.0 L1045.2,633.3 L1047.7,631.6 L1050.0,629.8 L1052.0,628.0 L1053.9,626.2 L1055.5,624.3 L1057.0,622.6 L1058.2,621.0 L1059.3,619.7 L1060.1,618.4 L1060.7,617.1 L1060.7,615.2 L1060.0,612.2 L1058.5,607.6 L1056.0,601.4 L1052.8,593.9 L1049.2,585.6 L1045.4,577.0 L1041.5,568.4 Z" fill="#cf2925"/>
<path d="M1061.0,545.0 L1041.5,568.4 L1061.0,612.5 L1062.7,613.2 L1064.5,614.0 L1066.6,614.8 L1069.0,615.6 L1071.7,616.5 L1074.9,617.4 L1078.3,618.3 L1082.1,619.2 L1086.2,620.0 L1090.5,620.8 L1095.1,621.4 L1099.9,621.9 L1104.9,622.3 L1109.9,622.6 L1115.0,622.8 L1120.1,622.9 L1125.1,622.9 L1130.1,622.8 L1134.9,622.6 L1139.4,622.2 L1143.7,621.8 L1147.7,621.1 L1151.5,620.4 L1155.0,619.5 L1158.2,618.4 L1161.1,617.2 L1163.8,615.8 L1166.3,614.2 L1168.7,612.6 L1170.9,610.9 L1173.1,609.0 L1175.1,607.1 L1177.1,605.1 L1179.0,603.0 L1180.7,600.7 L1182.3,598.2 L1183.8,595.7 L1185.1,593.0 L1186.2,590.2 L1187.1,587.3 L1187.9,584.4 L1188.5,581.4 L1188.8,578.5 L1189.0,575.6 L1189.0,572.9 L1188.7,570.3 L1188.2,567.9 L1187.6,565.5 L1186.7,563.2 L1185.6,560.8 L1184.3,558.4 L1182.8,556.0 L1181.1,553.6 L1179.2,551.3 L1177.1,549.2 L1174.9,547.2 L1172.6,545.5 L1170.3,543.9 L1168.2,542.5 L1166.3,541.4 L1164.4,540.4 L1162.1,539.7 L1158.4,539.3 L1152.2,539.2 L1142.8,539.5 L1129.9,540.2 L1114.2,541.2 L1096.9,542.4 L1078.9,543.7 L1061.0,545.0 Z" fill="#ffd42e"/>
<path d="M1124.0,468.2 L1064.0,465.0 L1029.0,488.0 L1061.0,545.0 L1153.0,538.5 L1154.7,537.9 L1156.4,537.3 L1158.2,536.6 L1159.9,535.7 L1161.5,534.7 L1163.0,533.6 L1164.3,532.3 L1165.4,530.9 L1166.4,529.4 L1167.3,527.7 L1168.1,525.9 L1168.8,524.0 L1169.4,522.1 L1169.9,520.1 L1170.4,518.3 L1170.7,516.5 L1171.0,514.8 L1171.3,513.2 L1171.6,511.7 L1171.9,510.2 L1172.1,508.6 L1171.9,506.9 L1170.9,504.7 L1168.5,501.7 L1164.3,497.8 L1158.2,492.8 L1150.6,487.0 L1142.0,480.8 L1133.0,474.5 L1124.0,468.2 Z" fill="#cf2925"/>
<path d="M1175.0,414.5 L1124.0,468.2 L1169.8,500.8 L1172.3,501.5 L1175.0,502.2 L1177.9,502.8 L1181.0,503.5 L1184.4,504.0 L1188.0,504.5 L1191.6,504.8 L1195.4,505.0 L1199.3,505.0 L1203.2,504.9 L1207.0,504.7 L1210.9,504.4 L1214.7,503.8 L1218.4,503.2 L1222.1,502.4 L1225.8,501.4 L1229.3,500.2 L1232.7,498.9 L1236.0,497.4 L1239.2,495.7 L1242.2,493.9 L1245.1,491.9 L1247.7,489.9 L1250.2,487.7 L1252.4,485.5 L1254.4,483.3 L1256.1,481.0 L1257.7,478.7 L1259.0,476.3 L1260.1,473.9 L1261.1,471.3 L1261.9,468.7 L1262.4,466.1 L1262.8,463.5 L1263.0,461.0 L1263.1,458.5 L1262.9,456.1 L1262.5,453.8 L1261.8,451.4 L1260.9,448.9 L1259.7,446.4 L1258.3,443.8 L1256.6,441.2 L1254.7,438.6 L1252.5,436.1 L1250.2,433.6 L1247.7,431.2 L1245.0,428.9 L1242.2,426.7 L1239.2,424.6 L1236.0,422.6 L1232.7,420.8 L1229.3,419.1 L1225.8,417.6 L1222.1,416.3 L1218.4,415.2 L1214.6,414.3 L1210.9,413.6 L1207.1,413.1 L1203.3,412.8 L1199.7,412.6 L1196.1,412.6 L1192.7,412.6 L1189.5,412.8 L1186.5,413.0 L1183.7,413.3 L1181.2,413.6 L1178.9,413.9 L1176.9,414.2 L1175.0,414.5 Z" fill="#1e6a66"/>
<path d="M1175.0,414.5 L1063.5,389.7 L1042.0,402.5 L1064.0,465.0 L1124.0,468.2 Z" fill="#cf2925"/>
<path d="M1175.0,414.5 L1063.5,389.7 L1073.4,345.0 L1161.0,330.5 L1163.3,330.8 L1165.7,331.2 L1168.2,331.7 L1170.9,332.4 L1173.8,333.3 L1176.7,334.3 L1179.7,335.6 L1182.6,337.1 L1185.5,338.8 L1188.4,340.8 L1191.2,342.9 L1193.9,345.3 L1196.4,347.8 L1198.8,350.5 L1200.9,353.3 L1202.9,356.2 L1204.6,359.1 L1206.1,362.1 L1207.4,365.0 L1208.4,367.8 L1209.1,370.6 L1209.6,373.2 L1209.8,375.8 L1209.8,378.4 L1209.6,381.0 L1209.1,383.5 L1208.5,386.1 L1207.6,388.6 L1206.6,391.1 L1205.4,393.5 L1204.0,395.9 L1202.4,398.1 L1200.7,400.2 L1198.9,402.2 L1197.0,404.0 L1195.0,405.6 L1193.0,407.1 L1190.8,408.4 L1188.6,409.6 L1186.3,410.6 L1183.9,411.6 L1181.6,412.4 L1179.3,413.2 L1177.1,413.9 L1175.0,414.5 Z" fill="#ffd42e"/>
<path d="M1161.0,330.5 L1073.4,345.0 L1030.3,318.5 L1040.0,267.0 L1040.9,266.5 L1041.9,265.9 L1043.1,265.2 L1044.5,264.5 L1046.2,263.8 L1048.2,262.9 L1050.5,262.0 L1053.0,261.1 L1055.9,260.2 L1059.0,259.3 L1062.3,258.4 L1065.9,257.6 L1069.7,256.9 L1073.7,256.2 L1077.7,255.6 L1081.9,255.1 L1086.1,254.7 L1090.4,254.4 L1094.7,254.2 L1099.0,254.1 L1103.2,254.1 L1107.5,254.2 L1111.8,254.4 L1116.1,254.7 L1120.4,255.3 L1124.7,256.0 L1129.0,256.9 L1133.2,258.0 L1137.3,259.2 L1141.3,260.6 L1145.1,262.2 L1148.7,264.0 L1152.1,265.9 L1155.3,268.0 L1158.2,270.2 L1160.8,272.5 L1163.2,275.0 L1165.4,277.5 L1167.3,280.1 L1168.9,282.7 L1170.3,285.2 L1171.5,287.8 L1172.4,290.4 L1173.2,292.9 L1173.7,295.5 L1174.1,298.1 L1174.3,300.6 L1174.3,303.2 L1174.1,305.8 L1173.7,308.4 L1173.1,311.0 L1172.4,313.7 L1171.4,316.3 L1170.3,318.8 L1168.9,321.2 L1167.4,323.4 L1165.8,325.4 L1164.2,327.3 L1162.6,328.9 L1161.0,330.5 Z" fill="#1e6a66"/>
<path d="M952.4,329.5 L1030.3,318.5 L1073.4,345.0 L1063.5,389.7 L1042.0,402.5 L962.7,402.3 L937.3,377.0 Z" fill="#cf2925"/>
<path d="M962.7,402.3 L1042.0,402.5 L1064.0,465.0 L1029.0,488.0 L962.7,488.2 L924.7,453.0 Z" fill="#1e6a66"/>
<path d="M962.7,488.2 L1029.0,488.0 L1061.0,545.0 L1041.5,568.4 L946.7,566.7 L926.2,534.0 Z" fill="#ffd42e"/>
<path d="M1233.0,696.8 L1232.4,704.4 L1230.7,710.8 L1227.8,716.6 L1223.8,721.9 L1218.8,726.7 L1212.7,731.0 L1205.7,734.7 L1197.8,737.7 L1189.1,740.1 L1179.5,741.9 L1169.0,742.9 L1156.5,743.3 L1144.0,742.9 L1133.5,741.9 L1123.9,740.1 L1115.2,737.7 L1107.3,734.7 L1100.3,731.0 L1094.2,726.7 L1089.2,721.9 L1085.2,716.6 L1082.3,710.8 L1080.6,704.4 L1080.0,696.8 L1080.6,689.2 L1082.3,682.8 L1085.2,677.0 L1089.2,671.7 L1094.2,666.9 L1100.3,662.6 L1107.3,658.9 L1115.2,655.9 L1123.9,653.5 L1133.5,651.7 L1144.0,650.7 L1156.5,650.3 L1169.0,650.7 L1179.5,651.7 L1189.1,653.5 L1197.8,655.9 L1205.7,658.9 L1212.7,662.6 L1218.8,666.9 L1223.8,671.7 L1227.8,677.0 L1230.7,682.8 L1232.4,689.2 Z" fill="#1e6a66"/>
</g>
<g filter="url(#bb)">
<g clip-path="url(#c_OCT1)"><path d="M895.5,296.0 L952.4,329.5 L1030.3,318.5 L1040.0,267.0 L1039.3,266.0 L1038.6,265.0 L1037.8,263.9 L1036.8,262.8 L1035.7,261.6 L1034.4,260.4 L1032.9,259.1 L1031.2,257.8 L1029.3,256.5 L1027.1,255.2 L1024.7,253.8 L1022.1,252.4 L1019.4,251.1 L1016.6,249.8 L1013.8,248.6 L1011.0,247.5 L1008.2,246.5 L1005.2,245.6 L1002.1,244.9 L998.7,244.2 L995.1,243.7 L991.1,243.2 L987.0,242.9 L982.8,242.7 L978.5,242.6 L974.2,242.7 L970.0,242.8 L965.7,243.1 L961.5,243.5 L957.3,244.1 L953.0,244.7 L948.8,245.5 L944.6,246.4 L940.6,247.4 L936.7,248.5 L932.9,249.7 L929.4,251.0 L926.0,252.4 L922.8,253.9 L919.7,255.5 L916.9,257.3 L914.1,259.2 L911.6,261.1 L909.2,263.2 L907.0,265.5 L905.0,267.8 L903.1,270.2 L901.5,272.7 L900.0,275.2 L898.8,277.7 L897.7,280.1 L896.9,282.4 L896.3,284.6 L895.8,286.7 L895.5,288.7 L895.3,290.4 L895.3,292.1 L895.3,293.5 L895.4,294.8 L895.5,296.0 Z" fill="#ffdd48"/><path d="M895.5,296.0 L952.4,329.5 L1030.3,318.5 L1040.0,267.0 L1039.3,266.0 L1038.6,265.0 L1037.8,263.9 L1036.8,262.8 L1035.7,261.6 L1034.4,260.4 L1032.9,259.1 L1031.2,257.8 L1029.3,256.5 L1027.1,255.2 L1024.7,253.8 L1022.1,252.4 L1019.4,251.1 L1016.6,249.8 L1013.8,248.6 L1011.0,247.5 L1008.2,246.5 L1005.2,245.6 L1002.1,244.9 L998.7,244.2 L995.1,243.7 L991.1,243.2 L987.0,242.9 L982.8,242.7 L978.5,242.6 L974.2,242.7 L970.0,242.8 L965.7,243.1 L961.5,243.5 L957.3,244.1 L953.0,244.7 L948.8,245.5 L944.6,246.4 L940.6,247.4 L936.7,248.5 L932.9,249.7 L929.4,251.0 L926.0,252.4 L922.8,253.9 L919.7,255.5 L916.9,257.3 L914.1,259.2 L911.6,261.1 L909.2,263.2 L907.0,265.5 L905.0,267.8 L903.1,270.2 L901.5,272.7 L900.0,275.2 L898.8,277.7 L897.7,280.1 L896.9,282.4 L896.3,284.6 L895.8,286.7 L895.5,288.7 L895.3,290.4 L895.3,292.1 L895.3,293.5 L895.4,294.8 L895.5,296.0 Z" fill="#ffd42e" filter="url(#inner)"/></g>
<g clip-path="url(#c_MYB)"><path d="M937.3,377.0 L952.4,329.5 L895.5,296.0 L892.7,295.9 L889.8,295.8 L886.7,295.7 L883.4,295.7 L879.9,295.7 L876.4,295.8 L872.8,296.0 L869.3,296.3 L865.7,296.7 L862.1,297.2 L858.5,297.8 L855.1,298.5 L851.7,299.3 L848.5,300.2 L845.5,301.1 L842.7,302.1 L840.1,303.2 L837.6,304.2 L835.4,305.3 L833.3,306.4 L831.4,307.4 L829.5,308.5 L827.8,309.7 L826.1,311.1 L824.4,312.7 L822.7,314.6 L821.0,316.7 L819.3,319.0 L817.8,321.5 L816.3,324.0 L815.1,326.5 L814.0,329.1 L813.1,331.8 L812.5,334.5 L812.1,337.3 L812.0,340.2 L812.1,343.2 L812.5,346.3 L813.1,349.3 L813.9,352.2 L815.0,355.0 L816.2,357.7 L817.6,360.1 L819.0,362.4 L820.5,364.5 L822.0,366.3 L823.4,368.0 L824.7,369.4 L825.7,370.6 L826.5,371.7 L827.1,372.7 L828.3,373.5 L831.2,374.2 L837.0,374.8 L846.7,375.4 L860.5,375.8 L877.8,376.2 L897.1,376.5 L917.1,376.8 L937.3,377.0 Z" fill="#c42a58"/><path d="M937.3,377.0 L952.4,329.5 L895.5,296.0 L892.7,295.9 L889.8,295.8 L886.7,295.7 L883.4,295.7 L879.9,295.7 L876.4,295.8 L872.8,296.0 L869.3,296.3 L865.7,296.7 L862.1,297.2 L858.5,297.8 L855.1,298.5 L851.7,299.3 L848.5,300.2 L845.5,301.1 L842.7,302.1 L840.1,303.2 L837.6,304.2 L835.4,305.3 L833.3,306.4 L831.4,307.4 L829.5,308.5 L827.8,309.7 L826.1,311.1 L824.4,312.7 L822.7,314.6 L821.0,316.7 L819.3,319.0 L817.8,321.5 L816.3,324.0 L815.1,326.5 L814.0,329.1 L813.1,331.8 L812.5,334.5 L812.1,337.3 L812.0,340.2 L812.1,343.2 L812.5,346.3 L813.1,349.3 L813.9,352.2 L815.0,355.0 L816.2,357.7 L817.6,360.1 L819.0,362.4 L820.5,364.5 L822.0,366.3 L823.4,368.0 L824.7,369.4 L825.7,370.6 L826.5,371.7 L827.1,372.7 L828.3,373.5 L831.2,374.2 L837.0,374.8 L846.7,375.4 L860.5,375.8 L877.8,376.2 L897.1,376.5 L917.1,376.8 L937.3,377.0 Z" fill="#cf2925" filter="url(#inner)"/></g>
<g clip-path="url(#c_MBD2)"><path d="M924.7,453.0 L962.7,402.3 L937.3,377.0 L834.5,375.5 L833.2,376.3 L831.9,377.2 L830.5,378.1 L828.9,379.2 L827.4,380.4 L825.7,381.8 L824.1,383.3 L822.5,384.9 L821.0,386.7 L819.6,388.7 L818.3,390.8 L817.1,393.1 L816.1,395.5 L815.2,398.0 L814.4,400.4 L813.8,402.9 L813.2,405.3 L812.8,407.8 L812.6,410.2 L812.6,412.6 L812.8,415.0 L813.2,417.4 L813.8,419.9 L814.6,422.3 L815.6,424.7 L816.8,427.2 L818.3,429.6 L819.9,432.1 L821.7,434.4 L823.7,436.7 L825.8,438.9 L828.1,441.1 L830.3,443.1 L832.4,445.0 L834.2,446.7 L836.0,448.3 L838.1,449.8 L841.3,451.0 L846.6,452.0 L854.7,452.7 L865.7,453.1 L879.2,453.3 L894.0,453.3 L909.4,453.2 L924.7,453.0 Z" fill="#ffdd48"/><path d="M924.7,453.0 L962.7,402.3 L937.3,377.0 L834.5,375.5 L833.2,376.3 L831.9,377.2 L830.5,378.1 L828.9,379.2 L827.4,380.4 L825.7,381.8 L824.1,383.3 L822.5,384.9 L821.0,386.7 L819.6,388.7 L818.3,390.8 L817.1,393.1 L816.1,395.5 L815.2,398.0 L814.4,400.4 L813.8,402.9 L813.2,405.3 L812.8,407.8 L812.6,410.2 L812.6,412.6 L812.8,415.0 L813.2,417.4 L813.8,419.9 L814.6,422.3 L815.6,424.7 L816.8,427.2 L818.3,429.6 L819.9,432.1 L821.7,434.4 L823.7,436.7 L825.8,438.9 L828.1,441.1 L830.3,443.1 L832.4,445.0 L834.2,446.7 L836.0,448.3 L838.1,449.8 L841.3,451.0 L846.6,452.0 L854.7,452.7 L865.7,453.1 L879.2,453.3 L894.0,453.3 L909.4,453.2 L924.7,453.0 Z" fill="#ffd42e" filter="url(#inner)"/></g>
<g clip-path="url(#c_BRG1)"><path d="M926.2,534.0 L962.7,488.2 L924.7,453.0 L846.0,453.4 L844.1,454.4 L842.1,455.5 L840.0,456.6 L837.8,457.9 L835.6,459.2 L833.5,460.7 L831.4,462.2 L829.3,463.9 L827.4,465.6 L825.6,467.6 L823.9,469.7 L822.4,472.0 L821.0,474.4 L819.7,476.8 L818.6,479.3 L817.7,481.7 L816.9,484.2 L816.3,486.6 L815.9,489.1 L815.6,491.5 L815.6,493.9 L815.8,496.4 L816.1,498.8 L816.6,501.2 L817.3,503.6 L818.0,505.9 L818.9,508.3 L819.9,510.5 L821.0,512.6 L822.1,514.6 L823.3,516.4 L824.4,518.1 L825.3,519.6 L826.0,521.0 L826.3,522.2 L826.4,523.3 L827.0,524.4 L829.2,525.4 L834.0,526.4 L842.6,527.6 L855.2,528.8 L871.0,530.1 L888.9,531.4 L907.5,532.7 L926.2,534.0 Z" fill="#c42a58"/><path d="M926.2,534.0 L962.7,488.2 L924.7,453.0 L846.0,453.4 L844.1,454.4 L842.1,455.5 L840.0,456.6 L837.8,457.9 L835.6,459.2 L833.5,460.7 L831.4,462.2 L829.3,463.9 L827.4,465.6 L825.6,467.6 L823.9,469.7 L822.4,472.0 L821.0,474.4 L819.7,476.8 L818.6,479.3 L817.7,481.7 L816.9,484.2 L816.3,486.6 L815.9,489.1 L815.6,491.5 L815.6,493.9 L815.8,496.4 L816.1,498.8 L816.6,501.2 L817.3,503.6 L818.0,505.9 L818.9,508.3 L819.9,510.5 L821.0,512.6 L822.1,514.6 L823.3,516.4 L824.4,518.1 L825.3,519.6 L826.0,521.0 L826.3,522.2 L826.4,523.3 L827.0,524.4 L829.2,525.4 L834.0,526.4 L842.6,527.6 L855.2,528.8 L871.0,530.1 L888.9,531.4 L907.5,532.7 L926.2,534.0 Z" fill="#cf2925" filter="url(#inner)"/></g>
<g clip-path="url(#c_KLF1)"><path d="M946.7,566.7 L926.2,534.0 L831.0,527.2 L829.5,527.4 L828.0,527.6 L826.4,527.8 L824.8,528.1 L823.3,528.5 L821.8,528.9 L820.4,529.5 L819.0,530.2 L817.5,531.0 L816.0,532.0 L814.4,533.3 L812.7,534.7 L811.0,536.3 L809.4,538.1 L807.8,540.0 L806.4,542.1 L805.1,544.3 L803.9,546.6 L802.9,549.0 L801.9,551.3 L801.1,553.7 L800.5,556.0 L799.9,558.4 L799.6,560.7 L799.4,563.0 L799.4,565.3 L799.6,567.7 L800.0,570.0 L800.6,572.4 L801.3,574.7 L802.3,577.1 L803.4,579.4 L804.7,581.7 L806.2,584.0 L808.0,586.3 L809.9,588.5 L812.0,590.6 L814.4,592.7 L816.8,594.6 L819.4,596.4 L822.2,598.2 L825.0,599.8 L827.9,601.2 L830.8,602.5 L833.6,603.7 L836.5,604.7 L839.4,605.5 L842.5,606.3 L845.7,606.9 L849.2,607.6 L853.0,608.1 L857.1,608.6 L861.4,609.0 L865.9,609.3 L870.4,609.4 L874.9,609.4 L879.3,609.3 L883.6,609.1 L887.8,608.7 L891.6,608.3 L895.2,607.9 L898.4,607.5 L901.2,607.1 L903.7,606.8 L905.7,606.7 L907.4,606.6 L909.0,606.4 L910.9,605.5 L913.4,603.6 L917.0,600.2 L921.8,595.1 L927.5,588.8 L933.8,581.6 L940.3,574.2 L946.7,566.7 Z" fill="#247874"/><path d="M946.7,566.7 L926.2,534.0 L831.0,527.2 L829.5,527.4 L828.0,527.6 L826.4,527.8 L824.8,528.1 L823.3,528.5 L821.8,528.9 L820.4,529.5 L819.0,530.2 L817.5,531.0 L816.0,532.0 L814.4,533.3 L812.7,534.7 L811.0,536.3 L809.4,538.1 L807.8,540.0 L806.4,542.1 L805.1,544.3 L803.9,546.6 L802.9,549.0 L801.9,551.3 L801.1,553.7 L800.5,556.0 L799.9,558.4 L799.6,560.7 L799.4,563.0 L799.4,565.3 L799.6,567.7 L800.0,570.0 L800.6,572.4 L801.3,574.7 L802.3,577.1 L803.4,579.4 L804.7,581.7 L806.2,584.0 L808.0,586.3 L809.9,588.5 L812.0,590.6 L814.4,592.7 L816.8,594.6 L819.4,596.4 L822.2,598.2 L825.0,599.8 L827.9,601.2 L830.8,602.5 L833.6,603.7 L836.5,604.7 L839.4,605.5 L842.5,606.3 L845.7,606.9 L849.2,607.6 L853.0,608.1 L857.1,608.6 L861.4,609.0 L865.9,609.3 L870.4,609.4 L874.9,609.4 L879.3,609.3 L883.6,609.1 L887.8,608.7 L891.6,608.3 L895.2,607.9 L898.4,607.5 L901.2,607.1 L903.7,606.8 L905.7,606.7 L907.4,606.6 L909.0,606.4 L910.9,605.5 L913.4,603.6 L917.0,600.2 L921.8,595.1 L927.5,588.8 L933.8,581.6 L940.3,574.2 L946.7,566.7 Z" fill="#1e6a66" filter="url(#inner)"/></g>
<g clip-path="url(#c_cohesin)"><path d="M1041.5,568.4 L946.7,566.7 L913.5,604.8 L913.6,606.2 L913.7,607.6 L913.8,609.2 L914.1,610.8 L914.5,612.5 L915.1,614.3 L915.9,616.2 L916.8,618.1 L918.0,620.0 L919.4,622.1 L921.0,624.2 L922.8,626.3 L924.8,628.4 L927.0,630.5 L929.3,632.5 L931.8,634.3 L934.5,636.0 L937.3,637.6 L940.3,639.1 L943.3,640.4 L946.5,641.7 L949.9,642.9 L953.3,644.0 L956.9,645.0 L960.6,645.8 L964.4,646.5 L968.3,647.1 L972.4,647.6 L976.5,647.9 L980.8,648.2 L985.0,648.3 L989.4,648.2 L993.7,648.1 L998.1,647.8 L1002.3,647.4 L1006.6,646.9 L1010.7,646.2 L1014.8,645.5 L1018.7,644.5 L1022.6,643.5 L1026.3,642.3 L1029.8,641.0 L1033.3,639.6 L1036.5,638.1 L1039.6,636.6 L1042.5,635.0 L1045.2,633.3 L1047.7,631.6 L1050.0,629.8 L1052.0,628.0 L1053.9,626.2 L1055.5,624.3 L1057.0,622.6 L1058.2,621.0 L1059.3,619.7 L1060.1,618.4 L1060.7,617.1 L1060.7,615.2 L1060.0,612.2 L1058.5,607.6 L1056.0,601.4 L1052.8,593.9 L1049.2,585.6 L1045.4,577.0 L1041.5,568.4 Z" fill="#c42a58"/><path d="M1041.5,568.4 L946.7,566.7 L913.5,604.8 L913.6,606.2 L913.7,607.6 L913.8,609.2 L914.1,610.8 L914.5,612.5 L915.1,614.3 L915.9,616.2 L916.8,618.1 L918.0,620.0 L919.4,622.1 L921.0,624.2 L922.8,626.3 L924.8,628.4 L927.0,630.5 L929.3,632.5 L931.8,634.3 L934.5,636.0 L937.3,637.6 L940.3,639.1 L943.3,640.4 L946.5,641.7 L949.9,642.9 L953.3,644.0 L956.9,645.0 L960.6,645.8 L964.4,646.5 L968.3,647.1 L972.4,647.6 L976.5,647.9 L980.8,648.2 L985.0,648.3 L989.4,648.2 L993.7,648.1 L998.1,647.8 L1002.3,647.4 L1006.6,646.9 L1010.7,646.2 L1014.8,645.5 L1018.7,644.5 L1022.6,643.5 L1026.3,642.3 L1029.8,641.0 L1033.3,639.6 L1036.5,638.1 L1039.6,636.6 L1042.5,635.0 L1045.2,633.3 L1047.7,631.6 L1050.0,629.8 L1052.0,628.0 L1053.9,626.2 L1055.5,624.3 L1057.0,622.6 L1058.2,621.0 L1059.3,619.7 L1060.1,618.4 L1060.7,617.1 L1060.7,615.2 L1060.0,612.2 L1058.5,607.6 L1056.0,601.4 L1052.8,593.9 L1049.2,585.6 L1045.4,577.0 L1041.5,568.4 Z" fill="#cf2925" filter="url(#inner)"/></g>
<g clip-path="url(#c_TAL1)"><path d="M1061.0,545.0 L1041.5,568.4 L1061.0,612.5 L1062.7,613.2 L1064.5,614.0 L1066.6,614.8 L1069.0,615.6 L1071.7,616.5 L1074.9,617.4 L1078.3,618.3 L1082.1,619.2 L1086.2,620.0 L1090.5,620.8 L1095.1,621.4 L1099.9,621.9 L1104.9,622.3 L1109.9,622.6 L1115.0,622.8 L1120.1,622.9 L1125.1,622.9 L1130.1,622.8 L1134.9,622.6 L1139.4,622.2 L1143.7,621.8 L1147.7,621.1 L1151.5,620.4 L1155.0,619.5 L1158.2,618.4 L1161.1,617.2 L1163.8,615.8 L1166.3,614.2 L1168.7,612.6 L1170.9,610.9 L1173.1,609.0 L1175.1,607.1 L1177.1,605.1 L1179.0,603.0 L1180.7,600.7 L1182.3,598.2 L1183.8,595.7 L1185.1,593.0 L1186.2,590.2 L1187.1,587.3 L1187.9,584.4 L1188.5,581.4 L1188.8,578.5 L1189.0,575.6 L1189.0,572.9 L1188.7,570.3 L1188.2,567.9 L1187.6,565.5 L1186.7,563.2 L1185.6,560.8 L1184.3,558.4 L1182.8,556.0 L1181.1,553.6 L1179.2,551.3 L1177.1,549.2 L1174.9,547.2 L1172.6,545.5 L1170.3,543.9 L1168.2,542.5 L1166.3,541.4 L1164.4,540.4 L1162.1,539.7 L1158.4,539.3 L1152.2,539.2 L1142.8,539.5 L1129.9,540.2 L1114.2,541.2 L1096.9,542.4 L1078.9,543.7 L1061.0,545.0 Z" fill="#ffdd48"/><path d="M1061.0,545.0 L1041.5,568.4 L1061.0,612.5 L1062.7,613.2 L1064.5,614.0 L1066.6,614.8 L1069.0,615.6 L1071.7,616.5 L1074.9,617.4 L1078.3,618.3 L1082.1,619.2 L1086.2,620.0 L1090.5,620.8 L1095.1,621.4 L1099.9,621.9 L1104.9,622.3 L1109.9,622.6 L1115.0,622.8 L1120.1,622.9 L1125.1,622.9 L1130.1,622.8 L1134.9,622.6 L1139.4,622.2 L1143.7,621.8 L1147.7,621.1 L1151.5,620.4 L1155.0,619.5 L1158.2,618.4 L1161.1,617.2 L1163.8,615.8 L1166.3,614.2 L1168.7,612.6 L1170.9,610.9 L1173.1,609.0 L1175.1,607.1 L1177.1,605.1 L1179.0,603.0 L1180.7,600.7 L1182.3,598.2 L1183.8,595.7 L1185.1,593.0 L1186.2,590.2 L1187.1,587.3 L1187.9,584.4 L1188.5,581.4 L1188.8,578.5 L1189.0,575.6 L1189.0,572.9 L1188.7,570.3 L1188.2,567.9 L1187.6,565.5 L1186.7,563.2 L1185.6,560.8 L1184.3,558.4 L1182.8,556.0 L1181.1,553.6 L1179.2,551.3 L1177.1,549.2 L1174.9,547.2 L1172.6,545.5 L1170.3,543.9 L1168.2,542.5 L1166.3,541.4 L1164.4,540.4 L1162.1,539.7 L1158.4,539.3 L1152.2,539.2 L1142.8,539.5 L1129.9,540.2 L1114.2,541.2 L1096.9,542.4 L1078.9,543.7 L1061.0,545.0 Z" fill="#ffd42e" filter="url(#inner)"/></g>
<g clip-path="url(#c_LDB1)"><path d="M1124.0,468.2 L1064.0,465.0 L1029.0,488.0 L1061.0,545.0 L1153.0,538.5 L1154.7,537.9 L1156.4,537.3 L1158.2,536.6 L1159.9,535.7 L1161.5,534.7 L1163.0,533.6 L1164.3,532.3 L1165.4,530.9 L1166.4,529.4 L1167.3,527.7 L1168.1,525.9 L1168.8,524.0 L1169.4,522.1 L1169.9,520.1 L1170.4,518.3 L1170.7,516.5 L1171.0,514.8 L1171.3,513.2 L1171.6,511.7 L1171.9,510.2 L1172.1,508.6 L1171.9,506.9 L1170.9,504.7 L1168.5,501.7 L1164.3,497.8 L1158.2,492.8 L1150.6,487.0 L1142.0,480.8 L1133.0,474.5 L1124.0,468.2 Z" fill="#c42a58"/><path d="M1124.0,468.2 L1064.0,465.0 L1029.0,488.0 L1061.0,545.0 L1153.0,538.5 L1154.7,537.9 L1156.4,537.3 L1158.2,536.6 L1159.9,535.7 L1161.5,534.7 L1163.0,533.6 L1164.3,532.3 L1165.4,530.9 L1166.4,529.4 L1167.3,527.7 L1168.1,525.9 L1168.8,524.0 L1169.4,522.1 L1169.9,520.1 L1170.4,518.3 L1170.7,516.5 L1171.0,514.8 L1171.3,513.2 L1171.6,511.7 L1171.9,510.2 L1172.1,508.6 L1171.9,506.9 L1170.9,504.7 L1168.5,501.7 L1164.3,497.8 L1158.2,492.8 L1150.6,487.0 L1142.0,480.8 L1133.0,474.5 L1124.0,468.2 Z" fill="#cf2925" filter="url(#inner)"/></g>
<g clip-path="url(#c_DNMT1)"><path d="M1175.0,414.5 L1124.0,468.2 L1169.8,500.8 L1172.3,501.5 L1175.0,502.2 L1177.9,502.8 L1181.0,503.5 L1184.4,504.0 L1188.0,504.5 L1191.6,504.8 L1195.4,505.0 L1199.3,505.0 L1203.2,504.9 L1207.0,504.7 L1210.9,504.4 L1214.7,503.8 L1218.4,503.2 L1222.1,502.4 L1225.8,501.4 L1229.3,500.2 L1232.7,498.9 L1236.0,497.4 L1239.2,495.7 L1242.2,493.9 L1245.1,491.9 L1247.7,489.9 L1250.2,487.7 L1252.4,485.5 L1254.4,483.3 L1256.1,481.0 L1257.7,478.7 L1259.0,476.3 L1260.1,473.9 L1261.1,471.3 L1261.9,468.7 L1262.4,466.1 L1262.8,463.5 L1263.0,461.0 L1263.1,458.5 L1262.9,456.1 L1262.5,453.8 L1261.8,451.4 L1260.9,448.9 L1259.7,446.4 L1258.3,443.8 L1256.6,441.2 L1254.7,438.6 L1252.5,436.1 L1250.2,433.6 L1247.7,431.2 L1245.0,428.9 L1242.2,426.7 L1239.2,424.6 L1236.0,422.6 L1232.7,420.8 L1229.3,419.1 L1225.8,417.6 L1222.1,416.3 L1218.4,415.2 L1214.6,414.3 L1210.9,413.6 L1207.1,413.1 L1203.3,412.8 L1199.7,412.6 L1196.1,412.6 L1192.7,412.6 L1189.5,412.8 L1186.5,413.0 L1183.7,413.3 L1181.2,413.6 L1178.9,413.9 L1176.9,414.2 L1175.0,414.5 Z" fill="#247874"/><path d="M1175.0,414.5 L1124.0,468.2 L1169.8,500.8 L1172.3,501.5 L1175.0,502.2 L1177.9,502.8 L1181.0,503.5 L1184.4,504.0 L1188.0,504.5 L1191.6,504.8 L1195.4,505.0 L1199.3,505.0 L1203.2,504.9 L1207.0,504.7 L1210.9,504.4 L1214.7,503.8 L1218.4,503.2 L1222.1,502.4 L1225.8,501.4 L1229.3,500.2 L1232.7,498.9 L1236.0,497.4 L1239.2,495.7 L1242.2,493.9 L1245.1,491.9 L1247.7,489.9 L1250.2,487.7 L1252.4,485.5 L1254.4,483.3 L1256.1,481.0 L1257.7,478.7 L1259.0,476.3 L1260.1,473.9 L1261.1,471.3 L1261.9,468.7 L1262.4,466.1 L1262.8,463.5 L1263.0,461.0 L1263.1,458.5 L1262.9,456.1 L1262.5,453.8 L1261.8,451.4 L1260.9,448.9 L1259.7,446.4 L1258.3,443.8 L1256.6,441.2 L1254.7,438.6 L1252.5,436.1 L1250.2,433.6 L1247.7,431.2 L1245.0,428.9 L1242.2,426.7 L1239.2,424.6 L1236.0,422.6 L1232.7,420.8 L1229.3,419.1 L1225.8,417.6 L1222.1,416.3 L1218.4,415.2 L1214.6,414.3 L1210.9,413.6 L1207.1,413.1 L1203.3,412.8 L1199.7,412.6 L1196.1,412.6 L1192.7,412.6 L1189.5,412.8 L1186.5,413.0 L1183.7,413.3 L1181.2,413.6 L1178.9,413.9 L1176.9,414.2 L1175.0,414.5 Z" fill="#1e6a66" filter="url(#inner)"/></g>
<g clip-path="url(#c_FOG1)"><path d="M1175.0,414.5 L1063.5,389.7 L1042.0,402.5 L1064.0,465.0 L1124.0,468.2 Z" fill="#c42a58"/><path d="M1175.0,414.5 L1063.5,389.7 L1042.0,402.5 L1064.0,465.0 L1124.0,468.2 Z" fill="#cf2925" filter="url(#inner)"/></g>
<g clip-path="url(#c_TR2TR4)"><path d="M1175.0,414.5 L1063.5,389.7 L1073.4,345.0 L1161.0,330.5 L1163.3,330.8 L1165.7,331.2 L1168.2,331.7 L1170.9,332.4 L1173.8,333.3 L1176.7,334.3 L1179.7,335.6 L1182.6,337.1 L1185.5,338.8 L1188.4,340.8 L1191.2,342.9 L1193.9,345.3 L1196.4,347.8 L1198.8,350.5 L1200.9,353.3 L1202.9,356.2 L1204.6,359.1 L1206.1,362.1 L1207.4,365.0 L1208.4,367.8 L1209.1,370.6 L1209.6,373.2 L1209.8,375.8 L1209.8,378.4 L1209.6,381.0 L1209.1,383.5 L1208.5,386.1 L1207.6,388.6 L1206.6,391.1 L1205.4,393.5 L1204.0,395.9 L1202.4,398.1 L1200.7,400.2 L1198.9,402.2 L1197.0,404.0 L1195.0,405.6 L1193.0,407.1 L1190.8,408.4 L1188.6,409.6 L1186.3,410.6 L1183.9,411.6 L1181.6,412.4 L1179.3,413.2 L1177.1,413.9 L1175.0,414.5 Z" fill="#ffdd48"/><path d="M1175.0,414.5 L1063.5,389.7 L1073.4,345.0 L1161.0,330.5 L1163.3,330.8 L1165.7,331.2 L1168.2,331.7 L1170.9,332.4 L1173.8,333.3 L1176.7,334.3 L1179.7,335.6 L1182.6,337.1 L1185.5,338.8 L1188.4,340.8 L1191.2,342.9 L1193.9,345.3 L1196.4,347.8 L1198.8,350.5 L1200.9,353.3 L1202.9,356.2 L1204.6,359.1 L1206.1,362.1 L1207.4,365.0 L1208.4,367.8 L1209.1,370.6 L1209.6,373.2 L1209.8,375.8 L1209.8,378.4 L1209.6,381.0 L1209.1,383.5 L1208.5,386.1 L1207.6,388.6 L1206.6,391.1 L1205.4,393.5 L1204.0,395.9 L1202.4,398.1 L1200.7,400.2 L1198.9,402.2 L1197.0,404.0 L1195.0,405.6 L1193.0,407.1 L1190.8,408.4 L1188.6,409.6 L1186.3,410.6 L1183.9,411.6 L1181.6,412.4 L1179.3,413.2 L1177.1,413.9 L1175.0,414.5 Z" fill="#ffd42e" filter="url(#inner)"/></g>
<g clip-path="url(#c_SOX1)"><path d="M1161.0,330.5 L1073.4,345.0 L1030.3,318.5 L1040.0,267.0 L1040.9,266.5 L1041.9,265.9 L1043.1,265.2 L1044.5,264.5 L1046.2,263.8 L1048.2,262.9 L1050.5,262.0 L1053.0,261.1 L1055.9,260.2 L1059.0,259.3 L1062.3,258.4 L1065.9,257.6 L1069.7,256.9 L1073.7,256.2 L1077.7,255.6 L1081.9,255.1 L1086.1,254.7 L1090.4,254.4 L1094.7,254.2 L1099.0,254.1 L1103.2,254.1 L1107.5,254.2 L1111.8,254.4 L1116.1,254.7 L1120.4,255.3 L1124.7,256.0 L1129.0,256.9 L1133.2,258.0 L1137.3,259.2 L1141.3,260.6 L1145.1,262.2 L1148.7,264.0 L1152.1,265.9 L1155.3,268.0 L1158.2,270.2 L1160.8,272.5 L1163.2,275.0 L1165.4,277.5 L1167.3,280.1 L1168.9,282.7 L1170.3,285.2 L1171.5,287.8 L1172.4,290.4 L1173.2,292.9 L1173.7,295.5 L1174.1,298.1 L1174.3,300.6 L1174.3,303.2 L1174.1,305.8 L1173.7,308.4 L1173.1,311.0 L1172.4,313.7 L1171.4,316.3 L1170.3,318.8 L1168.9,321.2 L1167.4,323.4 L1165.8,325.4 L1164.2,327.3 L1162.6,328.9 L1161.0,330.5 Z" fill="#247874"/><path d="M1161.0,330.5 L1073.4,345.0 L1030.3,318.5 L1040.0,267.0 L1040.9,266.5 L1041.9,265.9 L1043.1,265.2 L1044.5,264.5 L1046.2,263.8 L1048.2,262.9 L1050.5,262.0 L1053.0,261.1 L1055.9,260.2 L1059.0,259.3 L1062.3,258.4 L1065.9,257.6 L1069.7,256.9 L1073.7,256.2 L1077.7,255.6 L1081.9,255.1 L1086.1,254.7 L1090.4,254.4 L1094.7,254.2 L1099.0,254.1 L1103.2,254.1 L1107.5,254.2 L1111.8,254.4 L1116.1,254.7 L1120.4,255.3 L1124.7,256.0 L1129.0,256.9 L1133.2,258.0 L1137.3,259.2 L1141.3,260.6 L1145.1,262.2 L1148.7,264.0 L1152.1,265.9 L1155.3,268.0 L1158.2,270.2 L1160.8,272.5 L1163.2,275.0 L1165.4,277.5 L1167.3,280.1 L1168.9,282.7 L1170.3,285.2 L1171.5,287.8 L1172.4,290.4 L1173.2,292.9 L1173.7,295.5 L1174.1,298.1 L1174.3,300.6 L1174.3,303.2 L1174.1,305.8 L1173.7,308.4 L1173.1,311.0 L1172.4,313.7 L1171.4,316.3 L1170.3,318.8 L1168.9,321.2 L1167.4,323.4 L1165.8,325.4 L1164.2,327.3 L1162.6,328.9 L1161.0,330.5 Z" fill="#1e6a66" filter="url(#inner)"/></g>
<g clip-path="url(#c_HDAC)"><path d="M952.4,329.5 L1030.3,318.5 L1073.4,345.0 L1063.5,389.7 L1042.0,402.5 L962.7,402.3 L937.3,377.0 Z" fill="#c42a58"/><path d="M952.4,329.5 L1030.3,318.5 L1073.4,345.0 L1063.5,389.7 L1042.0,402.5 L962.7,402.3 L937.3,377.0 Z" fill="#cf2925" filter="url(#inner)"/></g>
<g clip-path="url(#c_BCL11A)"><path d="M962.7,402.3 L1042.0,402.5 L1064.0,465.0 L1029.0,488.0 L962.7,488.2 L924.7,453.0 Z" fill="#247874"/><path d="M962.7,402.3 L1042.0,402.5 L1064.0,465.0 L1029.0,488.0 L962.7,488.2 L924.7,453.0 Z" fill="#1e6a66" filter="url(#inner)"/></g>
<g clip-path="url(#c_GATA1)"><path d="M962.7,488.2 L1029.0,488.0 L1061.0,545.0 L1041.5,568.4 L946.7,566.7 L926.2,534.0 Z" fill="#ffdd48"/><path d="M962.7,488.2 L1029.0,488.0 L1061.0,545.0 L1041.5,568.4 L946.7,566.7 L926.2,534.0 Z" fill="#ffd42e" filter="url(#inner)"/></g>
<g clip-path="url(#c_Q)"><path d="M1233.0,696.8 L1232.4,704.4 L1230.7,710.8 L1227.8,716.6 L1223.8,721.9 L1218.8,726.7 L1212.7,731.0 L1205.7,734.7 L1197.8,737.7 L1189.1,740.1 L1179.5,741.9 L1169.0,742.9 L1156.5,743.3 L1144.0,742.9 L1133.5,741.9 L1123.9,740.1 L1115.2,737.7 L1107.3,734.7 L1100.3,731.0 L1094.2,726.7 L1089.2,721.9 L1085.2,716.6 L1082.3,710.8 L1080.6,704.4 L1080.0,696.8 L1080.6,689.2 L1082.3,682.8 L1085.2,677.0 L1089.2,671.7 L1094.2,666.9 L1100.3,662.6 L1107.3,658.9 L1115.2,655.9 L1123.9,653.5 L1133.5,651.7 L1144.0,650.7 L1156.5,650.3 L1169.0,650.7 L1179.5,651.7 L1189.1,653.5 L1197.8,655.9 L1205.7,658.9 L1212.7,662.6 L1218.8,666.9 L1223.8,671.7 L1227.8,677.0 L1230.7,682.8 L1232.4,689.2 Z" fill="#247874"/><path d="M1233.0,696.8 L1232.4,704.4 L1230.7,710.8 L1227.8,716.6 L1223.8,721.9 L1218.8,726.7 L1212.7,731.0 L1205.7,734.7 L1197.8,737.7 L1189.1,740.1 L1179.5,741.9 L1169.0,742.9 L1156.5,743.3 L1144.0,742.9 L1133.5,741.9 L1123.9,740.1 L1115.2,737.7 L1107.3,734.7 L1100.3,731.0 L1094.2,726.7 L1089.2,721.9 L1085.2,716.6 L1082.3,710.8 L1080.6,704.4 L1080.0,696.8 L1080.6,689.2 L1082.3,682.8 L1085.2,677.0 L1089.2,671.7 L1094.2,666.9 L1100.3,662.6 L1107.3,658.9 L1115.2,655.9 L1123.9,653.5 L1133.5,651.7 L1144.0,650.7 L1156.5,650.3 L1169.0,650.7 L1179.5,651.7 L1189.1,653.5 L1197.8,655.9 L1205.7,658.9 L1212.7,662.6 L1218.8,666.9 L1223.8,671.7 L1227.8,677.0 L1230.7,682.8 L1232.4,689.2 Z" fill="#1e6a66" filter="url(#inner)"/></g>
</g>
<text x="932.9" y="292.5" font-family='"Liberation Sans", sans-serif' font-size="29.5" font-weight="normal" fill="#2e2e22" text-anchor="start" textLength="73.0" lengthAdjust="spacingAndGlyphs"  stroke="#ffd42e" stroke-width="0.40">OCT1</text>
<text x="1069.9" y="305.0" font-family='"Liberation Sans", sans-serif' font-size="29.5" font-weight="normal" fill="#ffffff" text-anchor="start" textLength="72.2" lengthAdjust="spacingAndGlyphs"  stroke="#1e6a66" stroke-width="0.40">SOX1</text>
<text x="846.4" y="345.5" font-family='"Liberation Sans", sans-serif' font-size="29.5" font-weight="normal" fill="#ffffff" text-anchor="start" textLength="62.1" lengthAdjust="spacingAndGlyphs"  stroke="#cf2925" stroke-width="0.40">MYB</text>
<text x="943.9" y="373.8" font-family='"Liberation Sans", sans-serif' font-size="29.5" font-weight="normal" fill="#ffffff" text-anchor="start" textLength="122.0" lengthAdjust="spacingAndGlyphs"  stroke="#cf2925" stroke-width="0.40">HDAC1/2</text>
<text x="1084.0" y="380.8" font-family='"Liberation Sans", sans-serif' font-size="29.5" font-weight="normal" fill="#2e2e22" text-anchor="start" textLength="108.0" lengthAdjust="spacingAndGlyphs"  stroke="#ffd42e" stroke-width="0.40">TR2/TR4</text>
<text x="839.9" y="419.0" font-family='"Liberation Sans", sans-serif' font-size="29.5" font-weight="normal" fill="#2e2e22" text-anchor="start" textLength="81.2" lengthAdjust="spacingAndGlyphs"  stroke="#ffd42e" stroke-width="0.40">MBD2</text>
<text x="943.9" y="453.8" font-family='"Liberation Sans", sans-serif' font-size="29.5" font-weight="normal" fill="#ffffff" text-anchor="start" textLength="107.2" lengthAdjust="spacingAndGlyphs"  stroke="#1e6a66" stroke-width="0.40">BCL11A</text>
<text x="1069.8" y="435.5" font-family='"Liberation Sans", sans-serif' font-size="29.5" font-weight="normal" fill="#ffffff" text-anchor="start" textLength="74.2" lengthAdjust="spacingAndGlyphs"  stroke="#cf2925" stroke-width="0.40">FOG1</text>
<text x="1152.8" y="470.0" font-family='"Liberation Sans", sans-serif' font-size="29.5" font-weight="normal" fill="#ffffff" text-anchor="start" textLength="96.2" lengthAdjust="spacingAndGlyphs"  stroke="#1e6a66" stroke-width="0.40">DNMT1</text>
<text x="846.4" y="502.0" font-family='"Liberation Sans", sans-serif' font-size="29.5" font-weight="normal" fill="#ffffff" text-anchor="start" textLength="74.9" lengthAdjust="spacingAndGlyphs"  stroke="#cf2925" stroke-width="0.40">BRG1</text>
<text x="1059.8" y="512.0" font-family='"Liberation Sans", sans-serif' font-size="29.5" font-weight="normal" fill="#ffffff" text-anchor="start" textLength="71.1" lengthAdjust="spacingAndGlyphs"  stroke="#cf2925" stroke-width="0.40">LDB1</text>
<text x="944.5" y="538.0" font-family='"Liberation Sans", sans-serif' font-size="29.5" font-weight="normal" fill="#2e2e22" text-anchor="start" textLength="91.1" lengthAdjust="spacingAndGlyphs"  stroke="#ffd42e" stroke-width="0.40">GATA1</text>
<text x="833.3" y="575.5" font-family='"Liberation Sans", sans-serif' font-size="29.5" font-weight="normal" fill="#ffffff" text-anchor="start" textLength="66.1" lengthAdjust="spacingAndGlyphs"  stroke="#1e6a66" stroke-width="0.40">KLF1</text>
<text x="1084.9" y="587.5" font-family='"Liberation Sans", sans-serif' font-size="29.5" font-weight="normal" fill="#2e2e22" text-anchor="start" textLength="64.2" lengthAdjust="spacingAndGlyphs"  stroke="#ffd42e" stroke-width="0.40">TAL1</text>
<text x="935.9" y="617.3" font-family='"Liberation Sans", sans-serif' font-size="29.5" font-weight="normal" fill="#ffffff" text-anchor="start" textLength="101.2" lengthAdjust="spacingAndGlyphs"  stroke="#cf2925" stroke-width="0.40">cohesin</text>
<text x="1127.9" y="706.5" font-family='"Liberation Sans", sans-serif' font-size="33.0" font-weight="normal" fill="#ffffff" text-anchor="start" textLength="59.2" lengthAdjust="spacingAndGlyphs"  stroke="#1e6a66" stroke-width="0.40">????</text>
</svg>
</body></html>
